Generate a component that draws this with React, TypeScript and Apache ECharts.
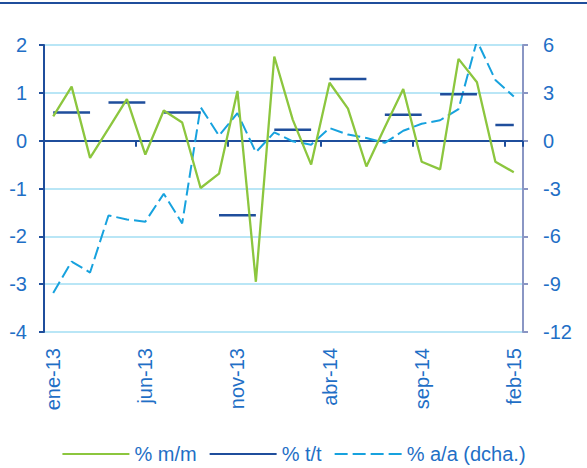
import React, { useEffect, useRef } from "react";
import * as echarts from "echarts";

const categories = [
  "ene-13", "feb-13", "mar-13", "abr-13", "may-13", "jun-13", "jul-13", "ago-13", "sep-13", "oct-13", "nov-13", "dic-13",
  "ene-14", "feb-14", "mar-14", "abr-14", "may-14", "jun-14", "jul-14", "ago-14", "sep-14", "oct-14", "nov-14", "dic-14",
  "ene-15", "feb-15",
];

const mmValues = [
  0.51, 1.13, -0.36, 0.25, 0.87, -0.29, 0.63, 0.38, -0.99, -0.69, 1.04, -2.95, 1.76,
  0.44, -0.5, 1.21, 0.67, -0.54, 0.28, 1.08, -0.44, -0.6, 1.71, 1.22, -0.44, -0.66,
];

const aaValues = [
  -9.56, -7.58, -8.27, -4.69, -4.94, -5.08, -3.33, -5.19, 2.1, 0.31, 1.73, -0.73, 0.52,
  -0.04, -0.25, 0.79, 0.38, 0.17, -0.14, 0.62, 1.06, 1.28, 1.98, 6.27, 3.81, 2.77,
];

const ttValues = [0.59, 0.8, 0.59, -1.56, 0.23, 1.29, 0.54, 0.97, 0.33];
const ttStart = [0, 3, 6, 9, 12, 15, 18, 21, 24];

const leftTicks = { min: -4, max: 2, interval: 1 };
const rightTicks = { min: -12, max: 6, interval: 3 };

const GREEN = "#8cc63e";
const NAVY = "#1f4e9c";
const LIGHT = "#17a2de";
const GRID = "#b9e6f6";
const TEXT = "#1f6fc6";

export default function App() {
  const ref = useRef<HTMLDivElement>(null);
  useEffect(() => {
    if (!ref.current) return;
    const chart = echarts.init(ref.current, null, { renderer: "svg" });
    const font = "'Liberation Sans', Arial, sans-serif";
    const FS = 20;

    const ttSeries = ttValues.map((v, qi) => {
      const data = categories.map((_, i) =>
        i >= ttStart[qi] && i < ttStart[qi] + 3 ? v : null
      );
      return {
        name: "% t/t",
        type: "line",
        data,
        symbol: "none",
        connectNulls: false,
        lineStyle: { color: NAVY, width: 2.5 },
        itemStyle: { color: NAVY },
        z: 3,
      };
    });

    chart.setOption({
      animation: false,
      textStyle: { fontFamily: font },
      grid: { left: 44, right: 64, top: 45, bottom: 136, containLabel: false },
      graphic: [
        {
          type: "rect",
          shape: { x: 0, y: 2, width: 587, height: 2 },
          style: { fill: NAVY },
        },
      ],
      legend: {
        left: "center",
        top: 439,
        itemWidth: 67,
        itemHeight: 14,
        itemGap: 12,
        itemStyle: { opacity: 0 },
        textStyle: { color: TEXT, fontSize: FS, fontFamily: font },
        data: [
          { name: "% m/m" },
          { name: "% t/t" },
          { name: "% a/a (dcha.)" },
        ],
      },
      xAxis: [
        {
          type: "category",
          data: categories,
          boundaryGap: true,
          position: "bottom",
          axisLine: { show: false },
          axisTick: { show: false },
          axisLabel: {
            interval: 4,
            rotate: 90,
            margin: 16,
            color: TEXT,
            fontSize: FS,
            fontFamily: font,
          },
          splitLine: { show: false },
        },
        {
          type: "category",
          data: categories,
          boundaryGap: true,
          position: "bottom",
          axisLine: {
            show: true,
            onZero: true,
            onZeroAxisIndex: 0,
            lineStyle: { color: NAVY, width: 2 },
          },
          axisTick: {
            show: true,
            interval: 4,
            length: 6,
            lineStyle: { color: NAVY, width: 2 },
          },
          axisLabel: { show: false },
          splitLine: { show: false },
        },
      ],
      yAxis: [
        {
          type: "value",
          position: "left",
          min: leftTicks.min,
          max: leftTicks.max,
          interval: leftTicks.interval,
          axisLine: { show: true, lineStyle: { color: NAVY, width: 2 } },
          axisTick: { show: true, length: 5, lineStyle: { color: NAVY, width: 2 } },
          axisLabel: { color: TEXT, fontSize: FS, margin: 17, fontFamily: font },
          splitLine: { show: true, lineStyle: { color: GRID, width: 2 } },
        },
        {
          type: "value",
          position: "right",
          min: rightTicks.min,
          max: rightTicks.max,
          interval: rightTicks.interval,
          axisLine: { show: true, lineStyle: { color: "#8a96c4", width: 2 } },
          axisTick: { show: true, length: 5, lineStyle: { color: "#8a96c4", width: 2 } },
          axisLabel: { color: TEXT, fontSize: FS, margin: 20, fontFamily: font },
          splitLine: { show: false },
        },
      ],
      series: [
        {
          name: "% m/m",
          type: "line",
          data: mmValues,
          symbol: "none",
          lineStyle: { color: GREEN, width: 2.3 },
          itemStyle: { color: GREEN },
          z: 4,
        },
        ...ttSeries,
        {
          name: "% a/a (dcha.)",
          type: "line",
          yAxisIndex: 1,
          data: aaValues,
          symbol: "none",
          lineStyle: { color: LIGHT, width: 2, type: [13, 5] },
          itemStyle: { color: LIGHT },
          z: 2,
        },
      ],
    });
    return () => chart.dispose();
  }, []);
  return (
    <div
      ref={ref}
      style={{ position: "fixed", left: 0, top: 0, width: 587, height: 468, background: "#fff" }}
    />
  );
}
